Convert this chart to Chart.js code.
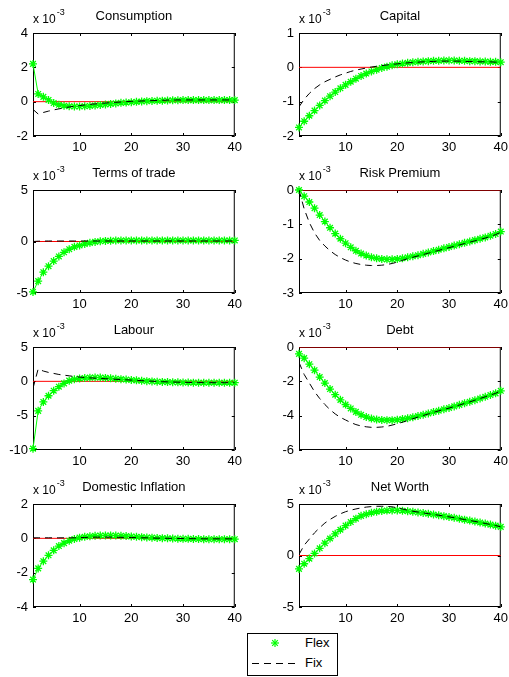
<!DOCTYPE html>
<html lang="en">
<head>
<meta charset="UTF-8">
<title>Impulse responses: Flex vs Fix</title>
<style>
  body { margin: 0; background: #fff; width: 509px; height: 677px; position: relative; overflow: hidden;
         font-family: Arial, "Liberation Sans", sans-serif; }
  canvas.panel { position: absolute; }
  #legend { position: absolute; left: 247px; top: 633px; width: 89px; height: 41px;
            border: 1px solid #000; background: #fff; font-size: 13px; }
  #legend svg { position: absolute; left: 0; top: 0; }
  #legend span { position: absolute; left: 57px; line-height: 15px; }
</style>
<script src="https://cdn.jsdelivr.net/npm/chart.js"></script>
</head>
<body>

<div id="legend">
  <svg width="89" height="41">
    <g stroke="#00ff00" stroke-width="1.2">
      <line x1="23" y1="9" x2="31" y2="9"/>
      <line x1="27" y1="5" x2="27" y2="13"/>
      <line x1="24.2" y1="6.2" x2="29.8" y2="11.8"/>
      <line x1="24.2" y1="11.8" x2="29.8" y2="6.2"/>
    </g>
    <line x1="4" y1="29.5" x2="49" y2="29.5" stroke="#000" stroke-width="1" stroke-dasharray="7 5"/>
  </svg>
  <span style="top:1px">Flex</span>
  <span style="top:21px">Fix</span>
</div>

<script>
// horizon (quarters)
const periods = [1,2,3,4,5,6,7,8,9,10,11,12,13,14,15,16,17,18,19,20,
                 21,22,23,24,25,26,27,28,29,30,31,32,33,34,35,36,37,38,39,40];
const xTicks = [10, 20, 30, 40];

// responses, in units of 1e-3
const consFlex = [2.2,0.45,0.28,0.1,-0.08,-0.18,-0.24,-0.27,-0.28,-0.28,-0.27,-0.25,-0.22,-0.19,-0.16,-0.13,-0.1,-0.07,-0.05,-0.03,
                  -0.01,0.01,0.03,0.04,0.05,0.06,0.07,0.08,0.08,0.09,0.09,0.09,0.09,0.09,0.09,0.09,0.09,0.09,0.09,0.09];
const consFix  = [-0.45,-0.72,-0.63,-0.55,-0.48,-0.42,-0.36,-0.31,-0.27,-0.23,-0.19,-0.16,-0.13,-0.11,-0.08,-0.06,-0.04,-0.02,0,0.02,
                  0.03,0.04,0.05,0.06,0.07,0.08,0.09,0.1,0.1,0.1,0.1,0.1,0.1,0.1,0.1,0.1,0.1,0.1,0.1,0.1];

const capFlex = [-1.75,-1.57,-1.41,-1.26,-1.11,-0.97,-0.84,-0.72,-0.61,-0.51,-0.42,-0.33,-0.25,-0.18,-0.12,-0.07,-0.02,0.02,0.06,0.09,
                 0.11,0.13,0.15,0.16,0.17,0.18,0.19,0.19,0.2,0.2,0.2,0.19,0.19,0.18,0.18,0.17,0.17,0.16,0.16,0.15];
const capFix  = [-1.15,-0.93,-0.76,-0.62,-0.51,-0.42,-0.35,-0.28,-0.22,-0.17,-0.12,-0.08,-0.05,-0.02,0.01,0.03,0.05,0.07,0.09,0.1,
                 0.12,0.13,0.14,0.15,0.16,0.17,0.17,0.18,0.18,0.18,0.18,0.18,0.17,0.17,0.17,0.16,0.16,0.16,0.15,0.15];

const totFlex = [-4.9,-3.85,-2.98,-2.4,-1.9,-1.45,-1.05,-0.75,-0.52,-0.38,-0.25,-0.13,-0.04,0.02,0.06,0.08,0.1,0.1,0.1,0.1,
                 0.1,0.1,0.1,0.1,0.1,0.1,0.1,0.1,0.1,0.1,0.1,0.1,0.1,0.1,0.1,0.1,0.1,0.1,0.1,0.1];
const totFix  = [0,0.03,0.04,0.05,0.05,0.05,0.05,0.05,0.05,0.05,0.05,0.05,0.05,0.05,0.05,0.05,0.05,0.05,0.05,0.05,
                 0.05,0.05,0.05,0.05,0.05,0.05,0.05,0.05,0.05,0.05,0.05,0.05,0.05,0.05,0.05,0.05,0.05,0.05,0.05,0.05];

const riskFlex = [0,-0.18,-0.35,-0.53,-0.73,-0.92,-1.1,-1.27,-1.42,-1.55,-1.67,-1.77,-1.85,-1.91,-1.96,-1.99,-2.01,-2.02,-2.02,-2.01,
                  -1.99,-1.96,-1.93,-1.9,-1.86,-1.82,-1.78,-1.74,-1.7,-1.66,-1.62,-1.58,-1.54,-1.5,-1.46,-1.42,-1.38,-1.33,-1.28,-1.21];
const riskFix  = [0,-0.55,-0.95,-1.25,-1.47,-1.63,-1.77,-1.88,-1.97,-2.04,-2.1,-2.14,-2.17,-2.19,-2.2,-2.2,-2.19,-2.17,-2.14,-2.1,
                  -2.05,-2.0,-1.96,-1.92,-1.88,-1.84,-1.8,-1.76,-1.72,-1.68,-1.64,-1.6,-1.56,-1.52,-1.48,-1.44,-1.4,-1.35,-1.3,-1.23];

const labFlex = [-9.8,-4.3,-3.0,-2.1,-1.36,-0.78,-0.3,0.1,0.3,0.4,0.48,0.54,0.57,0.55,0.5,0.44,0.38,0.32,0.26,0.2,
                 0.14,0.08,0.03,-0.01,-0.05,-0.08,-0.11,-0.13,-0.15,-0.17,-0.18,-0.19,-0.2,-0.2,-0.2,-0.2,-0.2,-0.2,-0.2,-0.2];
const labFix  = [-1.0,1.8,1.5,1.3,1.15,1.0,0.9,0.8,0.7,0.62,0.55,0.5,0.46,0.42,0.38,0.34,0.3,0.26,0.22,0.18,
                 0.14,0.1,0.06,0.02,-0.02,-0.05,-0.08,-0.1,-0.12,-0.14,-0.16,-0.17,-0.18,-0.19,-0.2,-0.2,-0.2,-0.2,-0.2,-0.2];

const debtFlex = [-0.4,-0.65,-1.0,-1.35,-1.75,-2.1,-2.45,-2.78,-3.08,-3.35,-3.58,-3.78,-3.95,-4.08,-4.17,-4.22,-4.25,-4.26,-4.26,-4.24,
                  -4.2,-4.15,-4.09,-4.02,-3.95,-3.87,-3.79,-3.71,-3.63,-3.55,-3.46,-3.37,-3.28,-3.19,-3.1,-3.0,-2.9,-2.8,-2.7,-2.55];
const debtFix  = [-0.9,-1.6,-2.1,-2.6,-3.0,-3.35,-3.65,-3.9,-4.1,-4.25,-4.4,-4.52,-4.6,-4.65,-4.68,-4.68,-4.66,-4.62,-4.55,-4.47,
                  -4.38,-4.28,-4.18,-4.08,-3.99,-3.9,-3.81,-3.72,-3.64,-3.56,-3.47,-3.38,-3.29,-3.2,-3.1,-3.0,-2.9,-2.8,-2.7,-2.55];

const infFlex = [-2.4,-1.75,-1.33,-0.99,-0.7,-0.45,-0.28,-0.14,-0.04,0.04,0.09,0.12,0.15,0.16,0.17,0.17,0.16,0.15,0.13,0.11,
                 0.09,0.07,0.05,0.04,0.02,0.01,0,-0.01,-0.02,-0.03,-0.03,-0.04,-0.04,-0.05,-0.05,-0.05,-0.05,-0.05,-0.05,-0.05];
const infFix  = [0.03,0.03,0.03,0.03,0.03,0.03,0.03,0.03,0.03,0.04,0.05,0.06,0.07,0.07,0.07,0.07,0.06,0.06,0.05,0.05,
                 0.04,0.03,0.03,0.02,0.01,0.01,0,0,-0.01,-0.01,-0.02,-0.02,-0.02,-0.03,-0.03,-0.03,-0.03,-0.03,-0.03,-0.03];

const nwFlex = [-1.3,-0.8,-0.3,0.2,0.7,1.2,1.65,2.1,2.5,2.9,3.25,3.58,3.85,4.0,4.15,4.25,4.32,4.36,4.38,4.38,
                4.35,4.3,4.24,4.18,4.12,4.05,3.98,3.9,3.82,3.74,3.66,3.57,3.48,3.39,3.3,3.2,3.1,3.0,2.9,2.78];
const nwFix  = [0.1,1.0,1.6,2.2,2.7,3.15,3.5,3.8,4.05,4.25,4.4,4.52,4.62,4.7,4.75,4.78,4.78,4.77,4.72,4.64,
                4.52,4.4,4.3,4.22,4.14,4.06,3.99,3.91,3.83,3.75,3.67,3.58,3.49,3.4,3.31,3.21,3.11,3.01,2.91,2.78];

const titles = ['Consumption', 'Capital', 'Terms of trade', 'Risk Premium',
                'Labour', 'Debt', 'Domestic Inflation', 'Net Worth'];
const flexSeries = [consFlex, capFlex, totFlex, riskFlex, labFlex, debtFlex, infFlex, nwFlex];
const fixSeries  = [consFix, capFix, totFix, riskFix, labFix, debtFix, infFix, nwFix];
const yMin  = [-2, -2, -5, -3, -10, -6, -4, -5];
const yMax  = [ 4,  1,  5,  0,   5,  0,  2,  5];
const yStep = [ 2,  1,  5,  1,   5,  2,  2,  5];

// plot box geometry (pixels)
const colLeft = [33, 299];
const rowTop = [33, 190, 347, 504];
const boxW = 203, boxH = 103;
const padL = 33, padT = 33, padR = 10, padB = 22;
const FONT = 'Arial, "Liberation Sans", sans-serif';

// box, inward ticks, title and exponent label, drawn MATLAB style
const matlabAxes = {
  id: 'matlabAxes',
  beforeDatasetsDraw(chart) {
    const { ctx, chartArea: a, scales } = chart;
    ctx.save();
    ctx.strokeStyle = '#000';
    ctx.lineWidth = 1;
    ctx.strokeRect(a.left + 0.5, a.top + 0.5, a.right - a.left - 1, a.bottom - a.top - 1);
    ctx.beginPath();
    scales.x.ticks.forEach(t => {
      const px = Math.round(scales.x.getPixelForValue(t.value)) + 0.5;
      ctx.moveTo(px, a.bottom); ctx.lineTo(px, a.bottom - 3);
      ctx.moveTo(px, a.top); ctx.lineTo(px, a.top + 3);
    });
    scales.y.ticks.forEach(t => {
      const py = Math.round(scales.y.getPixelForValue(t.value)) + 0.5;
      ctx.moveTo(a.left, py); ctx.lineTo(a.left + 3, py);
      ctx.moveTo(a.right, py); ctx.lineTo(a.right - 3, py);
    });
    ctx.stroke();
    ctx.restore();
  },
  afterDraw(chart, args, opts) {
    const { ctx, chartArea: a } = chart;
    ctx.save();
    ctx.fillStyle = '#000';
    ctx.textBaseline = 'middle';
    ctx.font = '13px ' + FONT;
    ctx.textAlign = 'center';
    ctx.fillText(opts.title, (a.left + a.right) / 2, a.top - 17);
    ctx.textAlign = 'left';
    ctx.font = '12px ' + FONT;
    ctx.fillText('x 10', a.left, a.top - 13);
    const w = ctx.measureText('x 10').width;
    ctx.font = '9px ' + FONT;
    ctx.fillText('-3', a.left + w + 1, a.top - 20);
    ctx.restore();
  }
};

function pts(values) {
  return periods.map((p, i) => ({ x: p, y: values[i] }));
}

titles.forEach((title, k) => {
  const col = k % 2, row = Math.floor(k / 2);
  const cv = document.createElement('canvas');
  cv.className = 'panel';
  const W = padL + boxW + padR, H = padT + boxH + padB;
  cv.width = W; cv.height = H;
  cv.style.width = W + 'px'; cv.style.height = H + 'px';
  cv.style.left = (colLeft[col] - padL) + 'px';
  cv.style.top = (rowTop[row] - padT) + 'px';
  document.body.appendChild(cv);

  new Chart(cv.getContext('2d'), {
    type: 'line',
    data: {
      datasets: [
        { label: 'Fix', data: pts(fixSeries[k]), borderColor: '#000', borderWidth: 1,
          borderDash: [7, 5], pointRadius: 0, fill: false },
        { label: 'Flex', data: pts(flexSeries[k]), borderColor: '#00ff00', borderWidth: 1,
          pointStyle: 'star', pointRadius: 4, pointBorderColor: '#00ff00', pointBorderWidth: 1.3,
          fill: false, clip: false },
        { label: 'zero', data: [{ x: periods[0], y: 0 }, { x: periods[periods.length - 1], y: 0 }],
          borderColor: '#ff0000', borderWidth: 1, pointRadius: 0, fill: false }
      ]
    },
    options: {
      responsive: false,
      animation: false,
      devicePixelRatio: 1,
      layout: { padding: { left: 0, top: padT, right: padR, bottom: 0 } },
      plugins: { legend: { display: false }, tooltip: { enabled: false }, matlabAxes: { title } },
      scales: {
        x: {
          type: 'linear', min: periods[0], max: periods[periods.length - 1],
          grid: { display: false, drawTicks: false }, border: { display: false },
          afterBuildTicks: s => { s.ticks = xTicks.map(v => ({ value: v })); },
          afterFit: s => { s.height = padB; },
          ticks: { color: '#000', padding: 4, maxRotation: 0, font: { family: FONT, size: 13 } }
        },
        y: {
          min: yMin[k], max: yMax[k],
          grid: { display: false, drawTicks: false }, border: { display: false },
          afterFit: s => { s.width = padL; },
          ticks: { stepSize: yStep[k], color: '#000', padding: 5, font: { family: FONT, size: 13 } }
        }
      }
    },
    plugins: [matlabAxes]
  });
});
</script>
</body>
</html>
